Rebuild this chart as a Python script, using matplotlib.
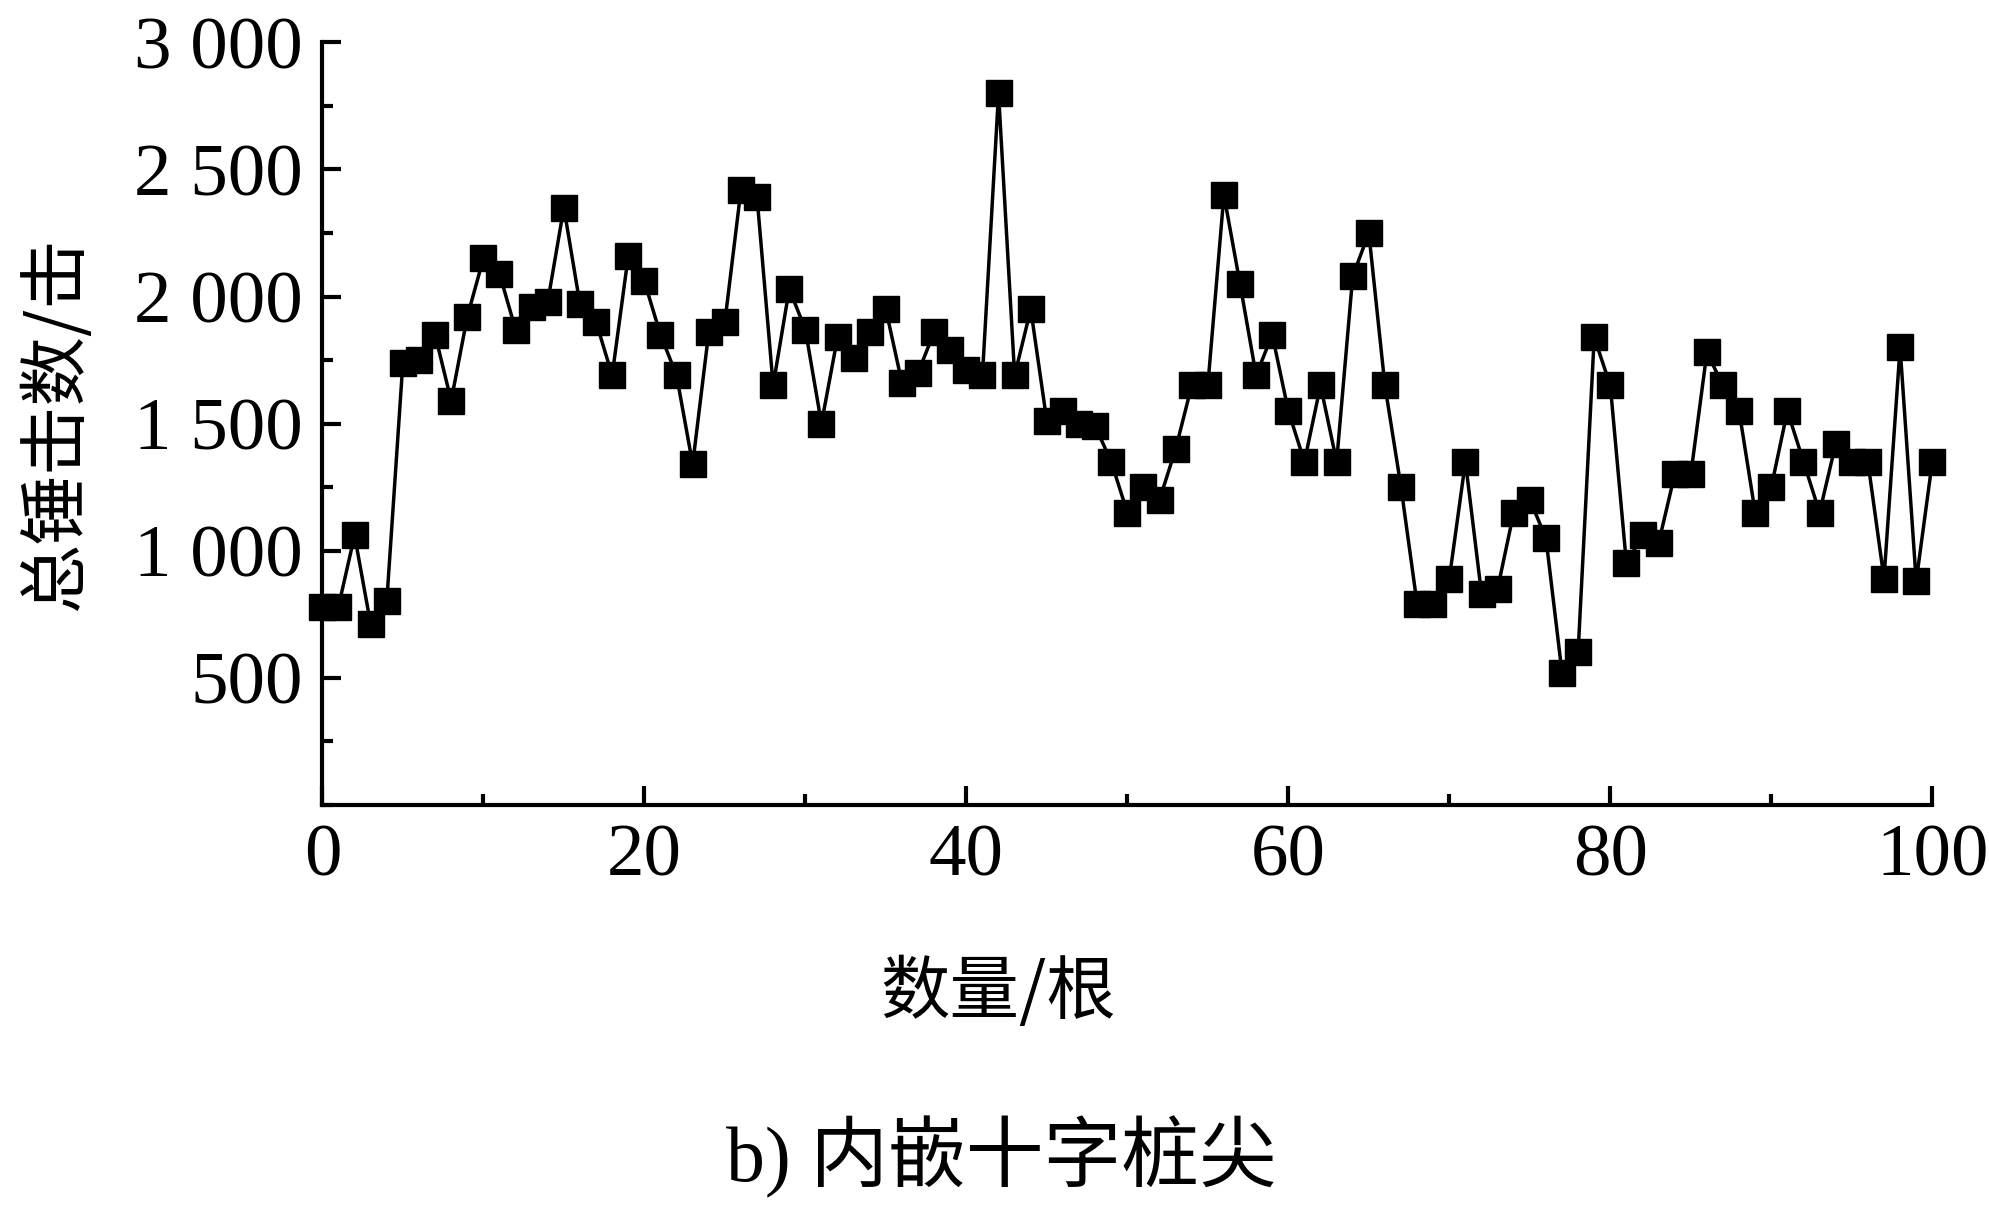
import matplotlib
matplotlib.use("Agg")
import matplotlib.pyplot as plt
from matplotlib.ticker import MultipleLocator

x = list(range(101))
blows = [780,780,1060,710,800,1740,1750,1850,1590,1920,2150,2090,1870,1960,1980,2350,1970,1900,1690,2160,
         2060,1850,1690,1340,1860,1900,2420,2390,1650,2030,1870,1500,1840,1760,1860,1950,1660,1700,1860,1790,
         1710,1690,2800,1690,1950,1510,1550,1500,1490,1350,1150,1250,1200,1400,1650,1650,2400,2050,1690,1850,
         1550,1350,1650,1350,2080,2250,1650,1250,790,790,890,1350,830,850,1150,1200,1050,520,600,1840,
         1650,950,1060,1030,1300,1300,1780,1650,1550,1150,1250,1550,1350,1150,1420,1350,1350,890,1800,880,1350]
yticks = [500,1000,1500,2000,2500,3000]
ytick_labels = ["500","1 000","1 500","2 000","2 500","3 000"]
xticks = [0,20,40,60,80,100]

fam = ['Liberation Serif','Noto Sans CJK SC','DejaVu Sans']
plt.rcParams['font.family'] = fam

fig = plt.figure(figsize=(19.9,12.12), dpi=100)
ax = fig.add_axes([0.162,0.336,0.809,0.629])
ax.plot(x, blows, color='black', lw=2.5, marker='s', markersize=19, markerfacecolor='black', clip_on=False)
ax.set_xlim(0,100); ax.set_ylim(0,3000)
ax.set_yticks(yticks); ax.set_yticklabels(ytick_labels)
ax.set_xticks(xticks)
ax.yaxis.set_minor_locator(MultipleLocator(250))
ax.xaxis.set_minor_locator(MultipleLocator(10))
for s in ['top','right']: ax.spines[s].set_visible(False)
for s in ['left','bottom']: ax.spines[s].set_linewidth(3)
ax.tick_params(direction='in', which='major', length=14, width=3, labelsize=54, pad=14)
ax.tick_params(direction='in', which='minor', length=8, width=3)
ax.set_ylabel('总锤击数/击', fontsize=50, family=['Noto Sans CJK SC'], labelpad=30)
ax.set_xlabel('数量/根', fontsize=50, family=['Noto Sans CJK SC'], labelpad=30)
ax.xaxis.set_label_coords(0.42, -0.2)
fig.text(0.503, 0.045, 'b) 内嵌十字桩尖', fontsize=56, ha='center', va='center', family=fam)
fig.savefig('out.png')
